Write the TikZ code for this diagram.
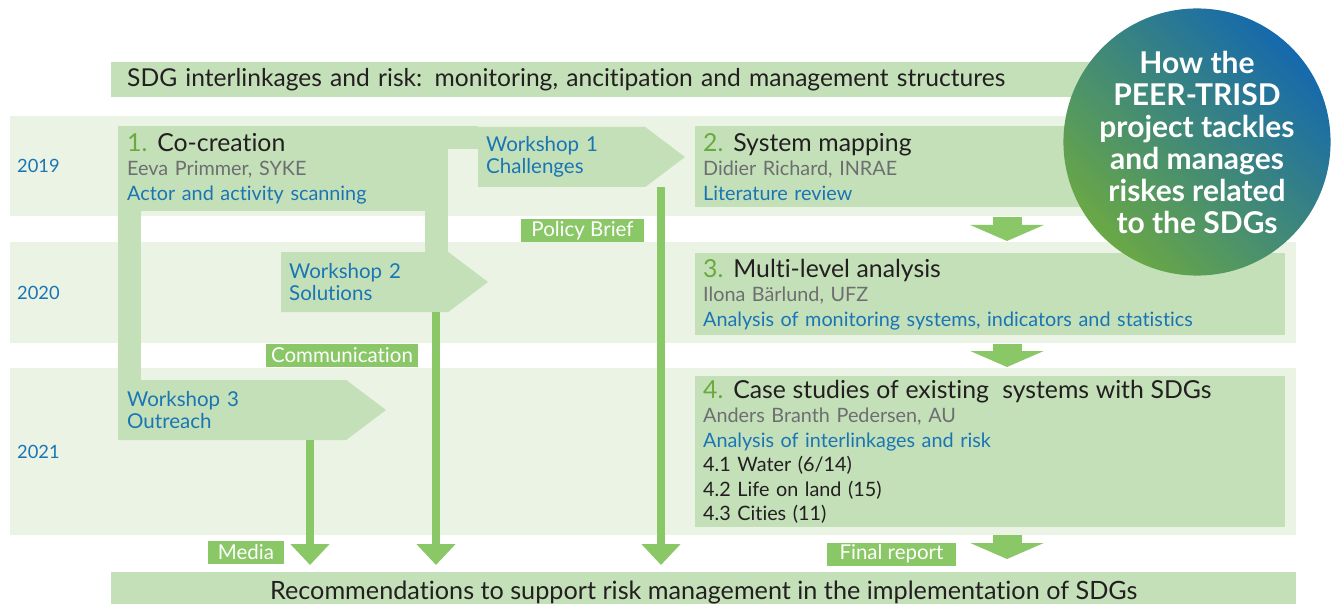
\documentclass[tikz,border=0pt]{standalone}
\usepackage{fontspec}
\setmainfont{Lato}[Ligatures=NoCommon]
\usetikzlibrary{arrows.meta,shapes.symbols}
\definecolor{bandgreen}{HTML}{EBF3E5}
\definecolor{boxgreen}{HTML}{C4E0B9}
\definecolor{darkgreen}{HTML}{8AC766}
\definecolor{numgreen}{HTML}{6AAA3C}
\definecolor{textblue}{HTML}{1A75B5}
\definecolor{textgray}{HTML}{6D6E70}
\definecolor{textblack}{HTML}{231F20}
\definecolor{circgreen}{HTML}{6AA845}
\definecolor{circteal}{HTML}{2E8A86}
\definecolor{circblue}{HTML}{1569AD}
\newcommand\stepnum[1]{{\fontsize{24.8}{24.5}\selectfont\textcolor{numgreen}{#1}}}
\newcommand\steptitle[1]{{\fontsize{24.8}{24.5}\selectfont #1}}

\tikzset{
  band/.style={fill=bandgreen},
  pbox/.style={fill=boxgreen, anchor=north west, align=left, inner xsep=8pt, inner ysep=0pt,
    font=\fontsize{19.8}{24.5}\selectfont, text=textblack},
  workshop/.style={signal, signal to=east, signal pointer angle=74, fill=boxgreen, anchor=west,
    align=left, inner xsep=8pt, inner ysep=0pt, minimum height=60pt, text=textblue,
    font=\fontsize{20.5}{21.5}\selectfont},
  tag/.style={fill=darkgreen, text=white, inner sep=0pt, minimum height=23pt, font=\fontsize{20.5}{22}\selectfont},
  year/.style={anchor=west, inner sep=0pt, text=textblue, font=\fontsize{18.3}{20}\selectfont},
  leg/.style={draw=boxgreen, line width=23pt},
  flow/.style={draw=darkgreen, line width=8pt, -{Triangle[width=38pt,length=21pt]}},
  bigflow/.style={draw=darkgreen, line width=29pt, -{Triangle[width=73pt,length=16pt]}},
}

\begin{document}
\begin{tikzpicture}[x=1pt,y=-1pt]
\useasboundingbox (0,0) rectangle (1333,604);

\fill[band] (10,116) rectangle (1296,216);
\fill[band] (10,242) rectangle (1296,343);
\fill[band] (10,368) rectangle (1296,535);

\node[year] (y2019) at (17,166) {2019};
\node[year] (y2020) at (17,293) {2020};
\node[year] (y2021) at (17,452) {2021};

\node[pbox, text width=1013pt, minimum height=35pt, inner xsep=16pt, font=\fontsize{24.6}{26}\selectfont] (sdgbar) at (111,62)
  {SDG interlinkages and risk: monitoring, ancitipation and management structures};

\node[pbox, text width=312pt, minimum height=85pt, inner xsep=9pt] (cocreate) at (118,126)
  {\stepnum{1.} \steptitle{Co-creation}\\ \textcolor{textgray}{Eeva Primmer, SYKE}\\ \textcolor{textblue}{Actor and activity scanning}};
\node[pbox, text width=439pt, minimum height=81pt] (mapping) at (695,126)
  {\stepnum{2.} \steptitle{System mapping}\\ \textcolor{textgray}{Didier Richard, INRAE}\\ \textcolor{textblue}{Literature review}};
\node[pbox, text width=574pt, minimum height=82pt] (multi) at (695,253)
  {\stepnum{3.} \steptitle{Multi-level analysis}\\ \textcolor{textgray}{Ilona Bärlund, UFZ}\\ \textcolor{textblue}{Analysis of monitoring systems, indicators and statistics}};
\node[pbox, text width=574pt, minimum height=151pt] (cases) at (695,376)
  {\stepnum{4.} \steptitle{Case studies of existing~ systems with SDGs}\\ \textcolor{textgray}{Anders Branth Pedersen, AU}\\
   \textcolor{textblue}{Analysis of interlinkages and risk}\\ 4.1 Water (6/14)\\ 4.2 Life on land (15)\\ 4.3 Cities (11)};

\node[workshop, text width=151pt] (ws1) at (478,157) {Workshop 1\\Challenges};
\node[workshop, text width=151pt] (ws2) at (281,282) {Workshop 2\\Solutions};
\node[workshop, text width=210pt, inner xsep=9pt] (ws3) at (118,410) {Workshop 3\\Outreach};

\draw[leg] ([yshift=-11.5pt]cocreate.north east) coordinate (tp) -- (tp -| ws1.west);
\draw[leg] ([xshift=11.5pt]cocreate.south west) coordinate (lt) -- (lt |- ws3.north);
\draw[leg] ([xshift=-11.5pt]cocreate.south east) coordinate (rt) -- (rt |- ws2.north);

\node[pbox, anchor=north west, inner sep=0pt, minimum width=1185pt, minimum height=40pt, align=center, font=\fontsize{25.2}{26}\selectfont] (recbar) at (111,572)
  {Recommendations to support risk management in the implementation of SDGs};

\draw[flow, shorten >=7pt] (ws1.south -| 661,0) -- (recbar.north -| 661,0);
\draw[flow, shorten >=7pt] (ws2.south -| 436,0) -- (recbar.north -| 436,0);
\draw[flow, shorten >=7pt] (ws3.south -| 310,0) -- (recbar.north -| 310,0);

\draw[bigflow, shorten <=10pt, shorten >=12pt] (mapping.south -| 1007,0) -- (multi.north -| 1007,0);
\draw[bigflow, shorten <=9pt, shorten >=9pt] (multi.south -| 1007,0) -- (cases.north -| 1007,0);
\draw[bigflow, shorten <=8pt, shorten >=13pt] (cases.south -| 1007,0) -- (recbar.north -| 1007,0);

\node[tag, minimum width=123pt] (policy) at (582.5,230.5) {Policy Brief};
\node[tag, minimum width=152pt] (comm) at (342,355.5) {Communication};
\node[tag, minimum width=76pt] (media) at (246,552.5) {Media};
\node[tag, minimum width=129pt] (final) at (891.5,554) {Final report};

\node[circle, minimum size=264pt, inner sep=0pt, left color=circgreen, middle color=circteal, right color=circblue,
  shading angle=135, text=white, align=center, font=\bfseries\fontsize{30}{32}\selectfont] (peer) at (1197,142)
  {How the\\PEER-TRISD\\project tackles\\and manages\\riskes related\\to the SDGs};
\end{tikzpicture}
\end{document}
